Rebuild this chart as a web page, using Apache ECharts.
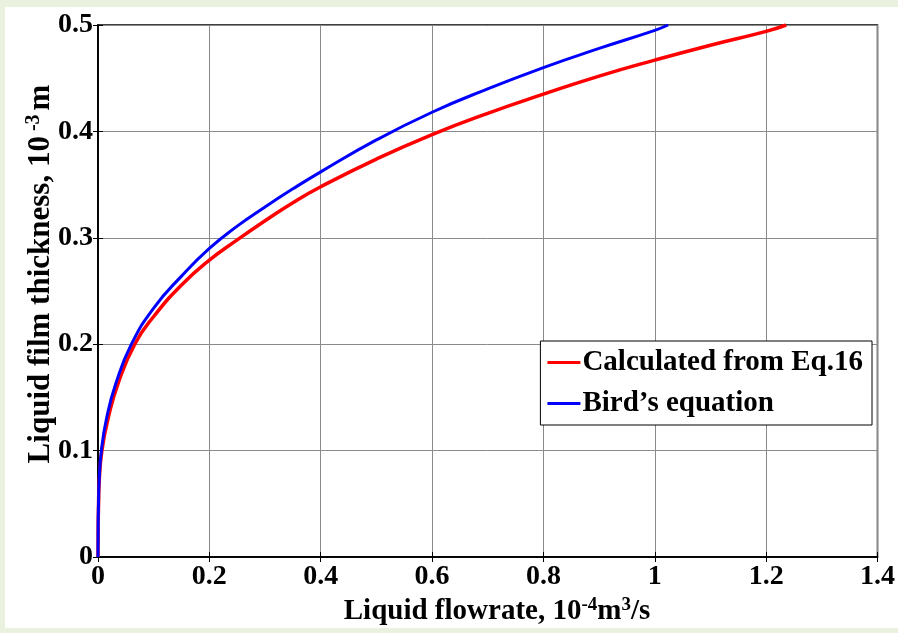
<!DOCTYPE html>
<html>
<head>
<meta charset="utf-8">
<script src="https://cdn.jsdelivr.net/npm/echarts@6/dist/echarts.min.js"></script>
<style>
  html, body { margin: 0; padding: 0; background: #eaf1de; }
  #chart { width: 898px; height: 633px; }
</style>
</head>
<body>
<div id="chart"></div>
<script>
// Liquid flowrate (10^-4 m^3/s) and film thickness (10^-3 m) along each curve
const eq16Flow = [0, 0.0003, 0.001, 0.002, 0.007, 0.019, 0.036, 0.066, 0.1, 0.15, 0.2, 0.25, 0.3, 0.35, 0.4, 0.5, 0.6, 0.7, 0.8, 0.9, 1.0, 1.1, 1.2, 1.236];
const eq16Thick = [0, 0.03, 0.05, 0.069, 0.1, 0.132, 0.163, 0.2, 0.226, 0.2556, 0.279, 0.298, 0.316, 0.333, 0.348, 0.374, 0.397, 0.417, 0.435, 0.452, 0.467, 0.481, 0.494, 0.5];

const birdFlow = [0, 0.0003, 0.001, 0.002, 0.006, 0.016, 0.032, 0.06, 0.1, 0.15, 0.2, 0.25, 0.3, 0.35, 0.4, 0.5, 0.6, 0.7, 0.8, 0.9, 1.0, 1.024];
const birdThick = [0, 0.032, 0.052, 0.071, 0.1, 0.132, 0.163, 0.2, 0.234, 0.264, 0.29, 0.311, 0.329, 0.346, 0.362, 0.392, 0.418, 0.44, 0.46, 0.478, 0.495, 0.5];

const seriesNames = ['Calculated from Eq.16', "Bird\u2019s equation"];
const xTickLabels = ['0', '0.2', '0.4', '0.6', '0.8', '1', '1.2', '1.4'];
const yTickLabels = ['0', '0.1', '0.2', '0.3', '0.4', '0.5'];

const FONT = "'Liberation Serif', 'Times New Roman', serif";

function pairs(xs, ys) {
  return xs.map((x, i) => [x, ys[i]]);
}

const chart = echarts.init(document.getElementById('chart'), null, { renderer: 'canvas' });

const labelStyle = {
  fontFamily: FONT,
  fontWeight: 'bold',
  fontSize: 28,
  color: '#000'
};

const hiddenAxis = {
  type: 'value',
  axisLine: { show: true, lineStyle: { color: '#000', width: 1.5 } },
  axisTick: { show: true, inside: true, length: 5, lineStyle: { color: '#000' } },
  axisLabel: { show: false },
  splitLine: { show: false }
};

function titleRich(size, supSize) {
  return {
    a: { fontFamily: FONT, fontWeight: 'bold', fontSize: size, lineHeight: size + 2, verticalAlign: 'bottom', fill: '#000' },
    s: { fontFamily: FONT, fontWeight: 'bold', fontSize: supSize, lineHeight: supSize, verticalAlign: 'top', fill: '#000' },
    g: { fontFamily: FONT, fontWeight: 'bold', fontSize: supSize, lineHeight: supSize, verticalAlign: 'top', fill: '#000', padding: [0, 4, 0, 5] }
  };
}

chart.setOption({
  backgroundColor: '#eaf1de',
  animation: false,
  graphic: [
    {
      type: 'rect',
      z: -10,
      silent: true,
      shape: { x: 5, y: 7, width: 893, height: 621 },
      style: { fill: '#ffffff' }
    },
    {
      type: 'text',
      x: 497,
      y: 611,
      silent: true,
      style: {
        text: '{a|Liquid flowrate, 10}{s|-4}{a|m}{s|3}{a|/s}',
        align: 'center',
        verticalAlign: 'middle',
        rich: titleRich(29, 19)
      }
    },
    {
      type: 'text',
      x: 40,
      y: 274,
      rotation: Math.PI / 2,
      silent: true,
      style: {
        text: '{a|Liquid film thickness, 10}{g|-3}{a|m}',
        align: 'center',
        verticalAlign: 'middle',
        rich: titleRich(31, 20)
      }
    }
  ],
  grid: {
    left: 98,
    top: 25,
    right: 18,
    bottom: 76,
    show: true,
    backgroundColor: '#fff',
    borderColor: '#000',
    borderWidth: 1.5
  },
  legend: {
    orient: 'vertical',
    right: 26,
    top: 341,
    align: 'left',
    icon: 'rect',
    itemWidth: 33,
    itemHeight: 3,
    itemGap: 12,
    padding: [7, 9, 7, 7],
    backgroundColor: '#fff',
    borderColor: '#000',
    borderWidth: 1,
    textStyle: { fontFamily: FONT, fontWeight: 'bold', fontSize: 29, color: '#000', padding: [0, 0, 0, -3] },
    data: seriesNames
  },
  xAxis: [
    {
      type: 'value',
      min: 0,
      max: 1.4,
      interval: 0.2,
      position: 'bottom',
      axisLine: { show: true, onZero: false, lineStyle: { color: '#000', width: 1.5 } },
      axisTick: { show: true, inside: true, length: 5, lineStyle: { color: '#000' } },
      axisLabel: Object.assign({ margin: 6, formatter: (v, i) => xTickLabels[i] }, labelStyle),
      splitLine: { show: true, lineStyle: { color: '#8a8a8a', width: 1 } }
    },
    Object.assign({ min: 0, max: 1.4, interval: 0.2, position: 'top' }, hiddenAxis)
  ],
  yAxis: [
    {
      type: 'value',
      min: 0,
      max: 0.5,
      interval: 0.1,
      position: 'left',
      axisLine: { show: true, onZero: false, lineStyle: { color: '#000', width: 1.5 } },
      axisTick: { show: true, inside: true, length: 5, lineStyle: { color: '#000' } },
      axisLabel: Object.assign({ margin: 5, formatter: (v, i) => yTickLabels[i] }, labelStyle),
      splitLine: { show: true, lineStyle: { color: '#8a8a8a', width: 1 } }
    },
    Object.assign({ min: 0, max: 0.5, interval: 0.1, position: 'right' }, hiddenAxis)
  ],
  series: [
    {
      name: seriesNames[0],
      type: 'line',
      data: pairs(eq16Flow, eq16Thick),
      showSymbol: false,
      symbol: 'none',
      smooth: 0.5,
      color: '#ff0000',
      lineStyle: { color: '#ff0000', width: 3.5 }
    },
    {
      name: seriesNames[1],
      type: 'line',
      data: pairs(birdFlow, birdThick),
      showSymbol: false,
      symbol: 'none',
      smooth: 0.5,
      color: '#0000ff',
      lineStyle: { color: '#0000ff', width: 3 }
    }
  ]
});
</script>
</body>
</html>
